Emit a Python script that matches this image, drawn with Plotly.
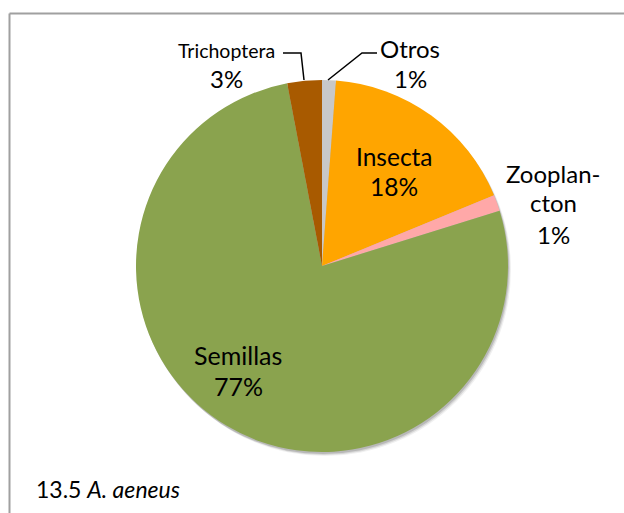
import plotly.graph_objects as go

# diet composition, clockwise from 12 o'clock
categories = ["Otros", "Insecta", "Zooplancton", "Semillas", "Trichoptera"]
values = [1.2, 17.6, 1.4, 76.8, 3.0]
colors = ["#C8C8C8", "#FFA500", "#FFA8A8", "#8AA34E", "#A85A00"]
label_lines = {
    "Otros": ["Otros"],
    "Insecta": ["Insecta"],
    "Zooplancton": ["Zooplan-", "cton"],
    "Semillas": ["Semillas"],
    "Trichoptera": ["Trichoptera"],
}
title_num = "13.5"
title_species = "A. aeneus"

W, H = 624, 513
CX, CY, R = 322, 266, 186


def px(x):
    return x / W


def py(y):
    return 1 - y / H


def pie_domain(dx=0, dy=0):
    return dict(x=[px(CX - R + dx), px(CX + R + dx)],
                y=[py(CY + R + dy), py(CY - R + dy)])


fig = go.Figure()

# soft shadow behind the pie
for d, a in [(4, 0.06), (3, 0.10), (2, 0.14)]:
    fig.add_trace(go.Pie(
        values=[sum(values)],
        marker=dict(colors=[f"rgba(0,0,0,{a})"], line=dict(width=0)),
        domain=pie_domain(d - 1, d),
        textinfo="none", hoverinfo="skip", sort=False,
    ))

fig.add_trace(go.Pie(
    labels=categories,
    values=values,
    marker=dict(colors=colors, line=dict(width=0)),
    domain=pie_domain(),
    sort=False,
    direction="clockwise",
    rotation=0,
    textinfo="none",
))

total = sum(values)
pct = {c: f"{round(v / total * 100)}%" for c, v in zip(categories, values)}

FONT = "Lato, 'Open Sans', sans-serif"


def label(x, ys, lines, sizes):
    for y, text, size in zip(ys, lines, sizes):
        fig.add_annotation(
            x=px(x), y=py(y), xref="paper", yref="paper",
            text=text, showarrow=False,
            font=dict(family=FONT, size=size, color="#000000"),
            xanchor="center", yanchor="middle",
        )


label(226, [50, 79], label_lines["Trichoptera"] + [pct["Trichoptera"]], [19.5, 24])
label(410, [48, 79], label_lines["Otros"] + [pct["Otros"]], [24, 24])
label(394, [156, 187], label_lines["Insecta"] + [pct["Insecta"]], [24.5, 24.5])
label(553, [173, 203, 234], label_lines["Zooplancton"] + [pct["Zooplancton"]], [24, 24, 24])
label(238, [355, 386], label_lines["Semillas"] + [pct["Semillas"]], [25, 25])

# title in the lower-left corner
fig.add_annotation(
    x=px(34), y=py(489), xref="paper", yref="paper",
    text=f"{title_num} <i>{title_species}</i>", showarrow=False,
    font=dict(family=FONT, size=23, color="#000000"),
    xanchor="left", yanchor="middle",
)

# leader lines and chart frame
line_style = dict(color="#000000", width=1.5)
fig.add_shape(type="path", xref="paper", yref="paper", line=line_style,
              path=f"M {px(283)} {py(53)} L {px(301)} {py(53)} L {px(304)} {py(80)}")
fig.add_shape(type="path", xref="paper", yref="paper", line=line_style,
              path=f"M {px(377)} {py(53)} L {px(362)} {py(53)} L {px(328)} {py(80)}")
frame = dict(color="#A0A0A0", width=2)
fig.add_shape(type="line", xref="paper", yref="paper", line=frame,
              x0=px(9.5), x1=px(9.5), y0=py(13.5), y1=0)
fig.add_shape(type="line", xref="paper", yref="paper", line=frame,
              x0=px(9.5), x1=1, y0=py(13.5), y1=py(13.5))

fig.update_layout(
    width=W, height=H,
    margin=dict(l=0, r=0, t=0, b=0),
    paper_bgcolor="white", plot_bgcolor="white",
    showlegend=False,
)

fig.write_html(
    "out.html",
    config={"displayModeBar": False},
    post_script=(
        "document.documentElement.style.overflow='hidden';"
        "document.body.style.margin='0';"
        "document.body.style.overflow='hidden';"
    ),
)
